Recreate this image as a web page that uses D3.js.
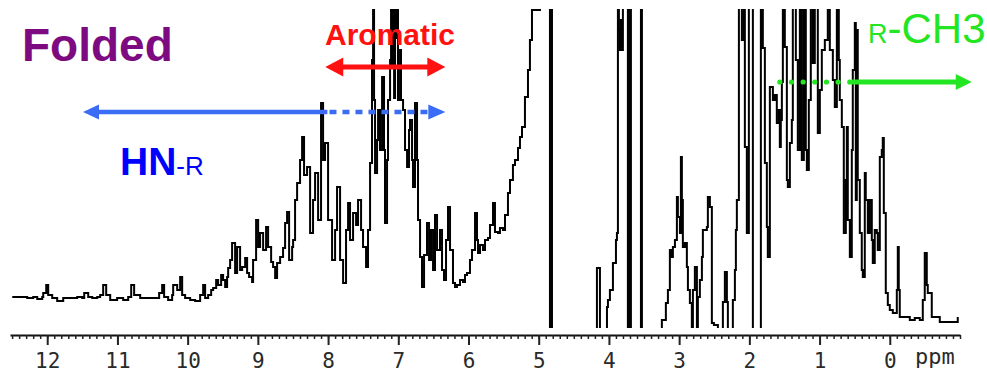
<!DOCTYPE html>
<html>
<head>
<meta charset="utf-8">
<script src="https://cdn.jsdelivr.net/npm/d3@7"></script>
<style>
  body { margin: 0; background: #fff; }
  svg { display: block; }
</style>
</head>
<body>
<svg id="chart" width="987" height="372"></svg>
<script>
// chemical shift (ppm) of each read point, high field to the right
var ppm = [
  12.498, 12.384, 12.285, 12.199, 12.142, 12.071, 12.057, 12.014, 11.986, 11.929,
  11.858, 11.772, 11.673, 11.573, 11.502, 11.473, 11.445, 11.416, 11.359, 11.288,
  11.246, 11.203, 11.160, 11.103, 11.004, 10.918, 10.847, 10.804, 10.762, 10.676,
  10.577, 10.491, 10.406, 10.363, 10.335, 10.278, 10.221, 10.206, 10.149, 10.107,
  10.078, 10.036, 9.964, 9.893, 9.822, 9.779, 9.751, 9.708, 9.665, 9.637,
  9.594, 9.566, 9.523, 9.495, 9.466, 9.438, 9.423, 9.395, 9.367, 9.324,
  9.295, 9.253, 9.224, 9.181, 9.153, 9.125, 9.082, 9.068, 9.025, 8.996,
  8.968, 8.925, 8.883, 8.854, 8.811, 8.783, 8.754, 8.726, 8.683, 8.641,
  8.612, 8.584, 8.555, 8.512, 8.498, 8.470, 8.441, 8.399, 8.370, 8.342,
  8.299, 8.256, 8.214, 8.185, 8.142, 8.100, 8.071, 8.043, 8.000, 7.943,
  7.900, 7.872, 7.829, 7.786, 7.744, 7.715, 7.687, 7.644, 7.601, 7.573,
  7.530, 7.502, 7.459, 7.431, 7.402, 7.374, 7.359, 7.345, 7.331, 7.302,
  7.288, 7.260, 7.231, 7.203, 7.189, 7.160, 7.146, 7.117, 7.103, 7.089, 7.075, 7.060, 7.046,
  7.032, 7.018, 7.004, 6.975, 6.961, 6.932, 6.904, 6.875, 6.847, 6.833, 6.804,
  6.790, 6.762, 6.733, 6.719, 6.690, 6.662, 6.633, 6.591, 6.562, 6.534,
  6.505, 6.477, 6.448, 6.406, 6.377, 6.349, 6.320, 6.292, 6.263, 6.221,
  6.192, 6.164, 6.121, 6.078, 6.050, 6.021, 5.979, 5.950, 5.907, 5.879,
  5.865, 5.836, 5.794, 5.765, 5.722, 5.694, 5.651, 5.623, 5.580, 5.552,
  5.509, 5.480, 5.438, 5.409, 5.367, 5.338, 5.295, 5.267, 5.238, 5.196,
  5.153, 5.125, 5.096, 4.982, 4.840, 4.826, 4.811, 4.797, 4.555, 4.185,
  4.171, 4.142, 4.128, 4.043, 4.028, 4.014, 3.986, 3.943, 3.900, 3.886,
  3.872, 3.858, 3.843, 3.829, 3.815, 3.801, 3.744, 3.730, 3.715, 3.687,
  3.544, 3.530, 3.274, 3.246, 3.217, 3.189, 3.160, 3.132, 3.117, 3.089,
  3.060, 3.032, 3.018, 2.989, 2.975, 2.961, 2.947, 2.918, 2.890, 2.875,
  2.847, 2.819, 2.804, 2.776, 2.747, 2.733, 2.705, 2.676, 2.662, 2.605,
  2.591, 2.562, 2.534, 2.505, 2.448, 2.377, 2.349, 2.320, 2.306, 2.235,
  2.206, 2.192, 2.178, 2.149, 2.107, 2.078, 2.064, 2.036, 2.007, 1.950,
  1.922, 1.836, 1.808, 1.779, 1.751, 1.737, 1.708, 1.680, 1.665, 1.637,
  1.609, 1.580, 1.566, 1.552, 1.537, 1.523, 1.495, 1.466, 1.452, 1.423,
  1.395, 1.381, 1.338, 1.310, 1.281, 1.253, 1.224, 1.196, 1.181, 1.153,
  1.125, 1.096, 1.068, 1.039, 1.025, 0.996, 0.968, 0.925, 0.883, 0.854,
  0.811, 0.783, 0.754, 0.726, 0.712, 0.683, 0.655, 0.626, 0.612, 0.598,
  0.569, 0.541, 0.527, 0.498, 0.484, 0.470, 0.456, 0.427, 0.399, 0.384,
  0.356, 0.342, 0.313, 0.285, 0.256, 0.242, 0.214, 0.185, 0.171, 0.142,
  0.114, 0.100, 0.085, 0.057, 0.028, 0.000, -0.043, -0.071, -0.100, -0.114,
  -0.128, -0.142, -0.214, -0.285, -0.356, -0.427, -0.470, -0.498, -0.527, -0.541,
  -0.598, -0.712, -0.854, -0.954, -0.968
]

// intensity (arbitrary units), values past the frame are cut by the clip
var intensity = [
  1, 1, 0, 1, -1, 1, 5, 13, 3, 0,
  -3, 0, 0, 1, 0, 5, 5, 1, 0, 1,
  3, 13, 3, -2, 0, -2, 1, 13, 3, 0,
  0, 0, 5, 13, 1, -2, 3, 13, 8, 21,
  3, 0, -2, -3, 3, 13, 0, 3, 8, 10,
  18, 13, 23, 18, 11, 21, 30, 38, 55, 25,
  51, 28, 31, 40, 25, 21, 16, 38, 78, 51,
  65, 48, 71, 51, 36, 31, 20, 35, 41, 50,
  75, 86, 38, 51, 58, 98, 115, 138, 161, 123,
  131, 65, 98, 125, 78, 195, 138, 155, 78, 38,
  68, 111, 38, 15, 68, 95, 58, 85, 73, 98,
  68, 51, 31, 68, 135, 238, 340, 198, 125, 158,
  188, 148, 221, 148, 75, 138, 198, 238, 340, 230, 340, 200, 340,
  260, 340, 198, 248, 198, 188, 148, 131, 168, 178, 138,
  111, 195, 138, 78, 41, 11, 43, 75, 38, 68,
  28, 83, 48, 68, 28, 18, 58, 91, 48, 15,
  11, 13, 18, 16, 23, 25, 38, 48, 85, 58,
  45, 53, 48, 58, 60, 73, 95, 66, 65, 70,
  68, 83, 105, 118, 133, 138, 150, 161, 171, 201,
  228, 258, 288, 340, -45, 340, -45, -45, -45, -45,
  30, 30, -45, -45, -9, -2, 8, 35, 58, 65,
  340, 268, 248, 278, 248, 340, 340, -45, 340, -45,
  340, -45, -45, -22, -22, -5, 8, 48, 41, 51,
  58, 101, 81, 65, 141, 98, 51, 55, 31, 8,
  -5, -29, 8, 31, -29, 1, 18, 41, 68, 71,
  101, 91, -25, -27, -45, -4, 26, -4, -45, -2,
  28, 68, 98, 340, 258, 340, 151, 65, 340, -45,
  -45, 340, 250, 135, 71, 41, 211, 211, 198, 203,
  175, 188, 151, 178, 216, 340, 251, 118, 111, 155,
  178, 340, 238, 148, 340, 138, 340, 148, 128, 198,
  340, 235, 340, 340, 165, 208, 248, 258, 340, 248,
  218, 191, 340, 238, 198, 171, 65, 118, 171, 78,
  41, 148, 228, 275, 98, 268, 118, 65, 28, 21,
  125, 98, 65, 98, 58, 35, 68, 65, 48, 141,
  148, 160, 85, 5, -7, -12, -15, -15, 8, 51,
  8, -19, -19, -22, -20, -22, -2, 45, 13, 5,
  -19, -24, -24, -24, -19
]

var majorTicks = [12, 11, 10, 9, 8, 7, 6, 5, 4, 3, 2, 1, 0]
var axisUnit = "ppm"

if (ppm.length !== intensity.length) console.error("ppm/intensity length mismatch", ppm.length, intensity.length)

var width = 987
var height = 372
var svg = d3.select("#chart")

var x = d3.scaleLinear().domain([12.53, -1.0]).range([10, 960])
var y = d3.scaleLinear().domain([0, 290]).range([298, 8])

var points = ppm.map(function(p, i) { return [p, intensity[i]] })

svg.append("rect").attr("width", width).attr("height", height).attr("fill", "#fff")

// clip the spectrum to the frame, tall peaks run off the top
svg.append("defs").append("clipPath").attr("id", "plotClip")
  .append("rect").attr("x", 10).attr("y", 9).attr("width", 950).attr("height", 319)

var line = d3.line()
  .x(function(d) { return x(d[0]) })
  .y(function(d) { return y(d[1]) })
  .curve(d3.curveStepAfter)

svg.append("g").attr("clip-path", "url(#plotClip)")
  .append("path")
  .datum(points)
  .attr("d", line)
  .attr("fill", "none")
  .attr("stroke", "#000")
  .attr("stroke-width", 2)
  .attr("stroke-linejoin", "miter")

// ppm axis: long ticks each ppm, short ticks each 0.1
var minorTicks = d3.range(-10, 126).map(function(i) { return i / 10 })
var axisY = 335
var axisG = svg.append("g").attr("transform", "translate(0," + axisY + ")")

axisG.append("g")
  .call(d3.axisBottom(x).tickValues(minorTicks).tickSize(4).tickSizeOuter(0).tickFormat(""))
  .call(function(g) { g.select(".domain").attr("stroke", "#111").attr("stroke-width", 2) })
  .call(function(g) { g.selectAll(".tick line").attr("stroke", "#222").attr("stroke-width", 1.5) })

axisG.append("g")
  .call(d3.axisBottom(x).tickValues(majorTicks).tickSize(10).tickSizeOuter(0).tickFormat(d3.format("d")))
  .call(function(g) { g.select(".domain").remove() })
  .call(function(g) { g.selectAll(".tick line").attr("stroke", "#222").attr("stroke-width", 2) })
  .call(function(g) {
    g.selectAll(".tick text")
      .attr("y", 33).attr("dy", null)
      .attr("font-family", "'DejaVu Sans Mono', monospace")
      .attr("font-size", 21)
      .attr("fill", "#2a2a2a")
  })

// unit label, kept clear of the bottom edge (descenders)
axisG.append("text")
  .attr("x", 915).attr("y", 29)
  .attr("font-family", "'DejaVu Sans Mono', monospace")
  .attr("font-size", 22)
  .attr("fill", "#2a2a2a")
  .text(axisUnit)

// annotations
function arrowHead(g, tipX, tipY, dir, len, half, color) {
  var bx = tipX - dir * len
  g.append("path")
    .attr("d", "M" + tipX + "," + tipY + "L" + bx + "," + (tipY - half) + "L" + bx + "," + (tipY + half) + "Z")
    .attr("fill", color)
}

var ann = svg.append("g")
var font = "'Liberation Sans', Arial, sans-serif"

ann.append("text")
  .attr("x", 22).attr("y", 61)
  .attr("font-family", font).attr("font-weight", "bold").attr("font-size", 46)
  .attr("fill", "#7d0a80")
  .text("Folded")

// HN-R arrow (blue)
var blue = "#3b6cf5"
var by = 112
ann.append("line")
  .attr("x1", x(11.36)).attr("x2", x(8.01)).attr("y1", by).attr("y2", by)
  .attr("stroke", blue).attr("stroke-width", 4.5)
ann.append("line")
  .attr("x1", x(7.98)).attr("x2", x(6.58)).attr("y1", by).attr("y2", by)
  .attr("stroke", blue).attr("stroke-width", 4.5).attr("stroke-dasharray", "7,6")
arrowHead(ann, x(11.49), by, -1, 16, 7.5, blue)
arrowHead(ann, x(6.33), by, 1, 17, 7.5, blue)

var hn = ann.append("text")
  .attr("x", 120).attr("y", 175)
  .attr("font-family", font).attr("fill", "#0000ff")
hn.append("tspan").attr("font-weight", "bold").attr("font-size", 39).text("HN")
hn.append("tspan").attr("font-size", 26).text("-R")

// Aromatic arrow (red)
var red = "#ff1111"
var ry = 67
ann.append("text")
  .attr("x", 390).attr("y", 45).attr("text-anchor", "middle")
  .attr("font-family", font).attr("font-weight", "bold").attr("font-size", 30)
  .attr("fill", red)
  .text("Aromatic")
ann.append("line")
  .attr("x1", x(7.85)).attr("x2", x(6.5)).attr("y1", ry).attr("y2", ry)
  .attr("stroke", red).attr("stroke-width", 5)
arrowHead(ann, x(8.04), ry, -1, 18, 9.5, red)
arrowHead(ann, x(6.33), ry, 1, 18, 9.5, red)

// R-CH3 arrow (green)
var green = "#22e622"
var gy = 82
var dotPpm = d3.range(0, 7).map(function(i) { return 1.566 - i * 0.166 })
ann.selectAll("circle.dot").data(dotPpm).enter().append("circle")
  .attr("class", "dot")
  .attr("cx", function(d) { return x(d) }).attr("cy", gy).attr("r", 2.6)
  .attr("fill", green)
ann.append("line")
  .attr("x1", x(0.54)).attr("x2", x(-0.95)).attr("y1", gy).attr("y2", gy)
  .attr("stroke", green).attr("stroke-width", 5)
arrowHead(ann, x(-1.167), gy, 1, 16, 8, green)

var ch = ann.append("text")
  .attr("x", 868).attr("y", 43)
  .attr("font-family", font).attr("fill", green)
ch.append("tspan").attr("font-size", 27).text("R")
ch.append("tspan").attr("font-size", 42).text("-CH3")
</script>
</body>
</html>
